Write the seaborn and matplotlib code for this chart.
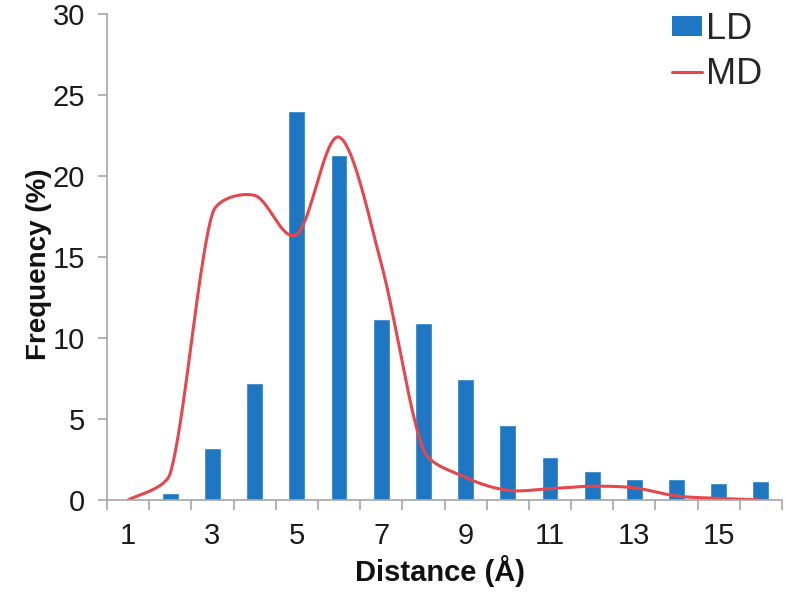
import numpy as np
import pandas as pd
from matplotlib import pyplot as plt
from matplotlib.lines import Line2D
from matplotlib.patches import Patch
import seaborn as sns

# Data
distance = [1, 2, 3, 4, 5, 6, 7, 8, 9, 10, 11, 12, 13, 14, 15, 16]
ld_freq = [0.0, 0.45, 3.2, 7.2, 24.0, 21.3, 11.2, 10.9, 7.45, 4.6, 2.65, 1.8, 1.3, 1.3, 1.05, 1.15]
md_freq = [0.0, 1.65, 17.7, 18.8, 16.4, 22.4, 14.6, 3.1, 1.4, 0.6, 0.7, 0.85, 0.75, 0.25, 0.1, 0.0]
x_tick_labels = ["1", "3", "5", "7", "9", "11", "13", "15"]
y_ticks = [0, 5, 10, 15, 20, 25, 30]

BLUE = "#1f77c4"
RED = "#e5474d"
GRAY = "#a6a6a6"


def smooth_line(x, y, sx, sy, n=40):
    # Excel-like smoothed line: bezier segments, arms clamped to the segment length
    P = np.column_stack([np.asarray(x, float) * sx, np.asarray(y, float) * sy])
    m = len(P)
    out = []
    s = np.linspace(0, 1, n)[:, None]
    for i in range(m - 1):
        p0, p1, p2, p3 = P[max(i - 1, 0)], P[i], P[i + 1], P[min(i + 2, m - 1)]
        L = np.linalg.norm(p2 - p1)
        t1 = (p2 - p0) / 6.0
        t2 = (p3 - p1) / 6.0
        if np.linalg.norm(t1) > L / 3:
            t1 = t1 * (L / 3) / np.linalg.norm(t1)
        if np.linalg.norm(t2) > L / 3:
            t2 = t2 * (L / 3) / np.linalg.norm(t2)
        b1, b2 = p1 + t1, p2 - t2
        seg = (1 - s) ** 3 * p1 + 3 * (1 - s) ** 2 * s * b1 + 3 * (1 - s) * s ** 2 * b2 + s ** 3 * p2
        out.append(seg if i == 0 else seg[1:])
    out = np.vstack(out)
    return out[:, 0] / sx, out[:, 1] / sy


sns.set_theme(style="white")
plt.rcParams["font.family"] = ["Liberation Sans", "DejaVu Sans"]

fig = plt.figure(figsize=(7.85, 5.93), dpi=100)
ax = fig.add_axes([107 / 785, 93 / 593, 675 / 785, 486 / 593])

df = pd.DataFrame({"Distance": distance, "LD": ld_freq})
sns.barplot(data=df, x="Distance", y="LD", native_scale=True, width=0.4,
            color=BLUE, saturation=1, ax=ax)

# pixel scale of the axes (x: 42.2 px per unit, y: 16.2 px per unit)
sx, sy = 675 / 16.0, 486 / 30.0
mx, my = smooth_line(distance, md_freq, sx, sy)
sns.lineplot(x=mx, y=my, color=RED, linewidth=2.2, sort=False, ax=ax)

ax.set_xlim(0.5, 16.5)
ax.set_ylim(0, 30)

# ticks
ax.set_xticks([1, 3, 5, 7, 9, 11, 13, 15])
ax.set_xticklabels(x_tick_labels)
ax.set_xticks(np.arange(0.5, 17, 1.0), minor=True)
ax.tick_params(axis="x", which="major", length=0, pad=16, labelsize=21, labelcolor="#1a1a1a")
ax.tick_params(axis="x", which="minor", bottom=True, length=7, width=1.2, color=GRAY, direction="out")
ax.set_yticks(y_ticks)
ax.tick_params(axis="y", left=True, length=6.5, width=1.2, color=GRAY, direction="out",
               pad=9.5, labelsize=21, labelcolor="#1a1a1a")

for side in ["top", "right"]:
    ax.spines[side].set_visible(False)
for side in ["left", "bottom"]:
    ax.spines[side].set_color(GRAY)
    ax.spines[side].set_linewidth(1.2)

ax.set_xlabel("Distance (Å)", fontsize=21, fontweight="bold", color="#111111")
ax.set_ylabel("Frequency (%)", fontsize=20, fontweight="bold", color="#111111")
ax.xaxis.set_label_coords(0.493, -0.113)
ax.yaxis.set_label_coords((52 - 107) / 675, 0.486)

handles = [Patch(facecolor=BLUE, edgecolor="none"), Line2D([], [], color=RED, linewidth=2.2)]
ax.legend(handles, ["LD", "MD"], loc="upper left", bbox_to_anchor=(672 / 785, 1 - 12 / 593),
          bbox_transform=fig.transFigure, frameon=False, fontsize=26, borderpad=0,
          handlelength=0.83, handleheight=0.5, handletextpad=0.1, labelspacing=0.27,
          borderaxespad=0)

plt.savefig("out.png", dpi=100)
